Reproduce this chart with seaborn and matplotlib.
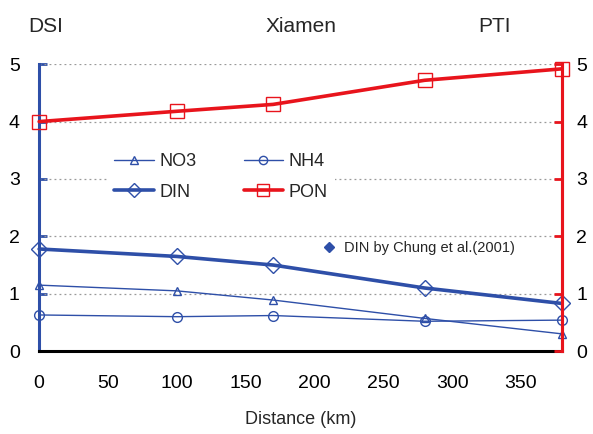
import matplotlib
matplotlib.use("Agg")
import matplotlib.pyplot as plt
from matplotlib.lines import Line2D
import seaborn as sns
import pandas as pd

sns.set_theme(style="white")
plt.rcParams["font.family"] = ["Liberation Sans", "DejaVu Sans"]

# Station distances along the transect (km)
distance = [0, 100, 170, 280, 380]
no3 = [1.15, 1.05, 0.89, 0.57, 0.30]
nh4 = [0.63, 0.60, 0.62, 0.52, 0.54]
din = [1.78, 1.65, 1.50, 1.10, 0.83]
pon = [4.00, 4.18, 4.30, 4.72, 4.92]

x_ticks = [0, 50, 100, 150, 200, 250, 300, 350]
y_ticks = [0, 1, 2, 3, 4, 5]
site_labels = ["DSI", "Xiamen", "PTI"]
site_pos = [-0.02, 0.5, 0.87]

blue = "#2E4FA8"
red = "#E8141C"

df = pd.DataFrame({"Distance": distance, "NO3": no3, "NH4": nh4,
                   "DIN": din, "PON": pon})

fig = plt.figure(figsize=(5.93, 4.34), dpi=100)
ax = fig.add_axes([0.066, 0.191, 0.882, 0.661])

styles = {
    "NO3": dict(color=blue, lw=1.0, marker="^", ms=6),
    "NH4": dict(color=blue, lw=1.0, marker="o", ms=7),
    "DIN": dict(color=blue, lw=2.6, marker="D", ms=8),
    "PON": dict(color=red, lw=2.6, marker="s", ms=10),
}
handles = {}
for name, st in styles.items():
    sns.lineplot(data=df, x="Distance", y=name, ax=ax, color=st["color"],
                 linewidth=st["lw"], marker=st["marker"], markersize=st["ms"],
                 markerfacecolor="none", markeredgecolor=st["color"],
                 markeredgewidth=1.0, clip_on=False, zorder=3)
    handles[name] = Line2D([], [], color=st["color"], lw=st["lw"],
                           marker=st["marker"], markersize=st["ms"] * 0.85,
                           markerfacecolor="none", markeredgecolor=st["color"],
                           markeredgewidth=1.0)

ax.set_xlim(0, 380)
ax.set_ylim(0, 5)
ax.set_xticks(x_ticks)
ax.set_yticks(y_ticks)
ax.set_xticklabels([str(t) for t in x_ticks], fontsize=14)
ax.set_yticklabels([str(t) for t in y_ticks], fontsize=14)
ax.set_xlabel("Distance (km)", fontsize=13, labelpad=14)
ax.set_ylabel("")

for y in y_ticks[1:]:
    ax.axhline(y, color="#999999", lw=0.9, ls=(0, (1.5, 2.5)), zorder=1)

ax.spines["top"].set_visible(False)
ax.spines["left"].set_color(blue)
ax.spines["left"].set_linewidth(2.2)
ax.spines["right"].set_color(red)
ax.spines["right"].set_linewidth(2.2)
ax.spines["bottom"].set_color("black")
ax.spines["bottom"].set_linewidth(2.2)

ax.tick_params(axis="x", direction="in", length=7, width=2, color="black",
               pad=17, labelcolor="black")
ax.tick_params(axis="y", direction="in", length=6, width=2, color=blue,
               pad=14, labelcolor="black", left=True)

ax2 = ax.twinx()
ax2.set_ylim(0, 5)
ax2.set_yticks(y_ticks)
ax2.set_yticklabels([str(t) for t in y_ticks], fontsize=14)
ax2.tick_params(axis="y", direction="in", length=6, width=2, color=red,
                pad=10, labelcolor="black")
for side in ["top", "left", "bottom"]:
    ax2.spines[side].set_visible(False)
ax2.spines["right"].set_color(red)
ax2.spines["right"].set_linewidth(2.2)
ax2.grid(False)

for label, pos in zip(site_labels, site_pos):
    ax.text(pos, 1.13, label, transform=ax.transAxes, fontsize=15,
            ha="left" if pos < 0 else "center", va="center")

leg = ax2.legend([handles["NO3"], handles["DIN"], handles["NH4"], handles["PON"]],
                 ["NO3", "DIN", "NH4", "PON"], ncol=2, fontsize=13,
                 loc="upper left", bbox_to_anchor=(0.13, 0.715),
                 frameon=True, facecolor="white", edgecolor="none",
                 framealpha=1, handlelength=2.2, handletextpad=0.3,
                 columnspacing=2.6, labelspacing=0.75, borderaxespad=0)
leg.set_zorder(5)
ax2.add_artist(leg)

chung = Line2D([], [], color=blue, lw=0, marker="D", markersize=5,
               markerfacecolor=blue, markeredgecolor=blue)
leg2 = ax2.legend([chung], ["DIN by Chung et al.(2001)"], fontsize=10.5,
                  loc="upper left", bbox_to_anchor=(0.53, 0.405),
                  frameon=False, handlelength=1.0, handletextpad=0.5,
                  borderaxespad=0)

fig.savefig("out.png", dpi=100)
